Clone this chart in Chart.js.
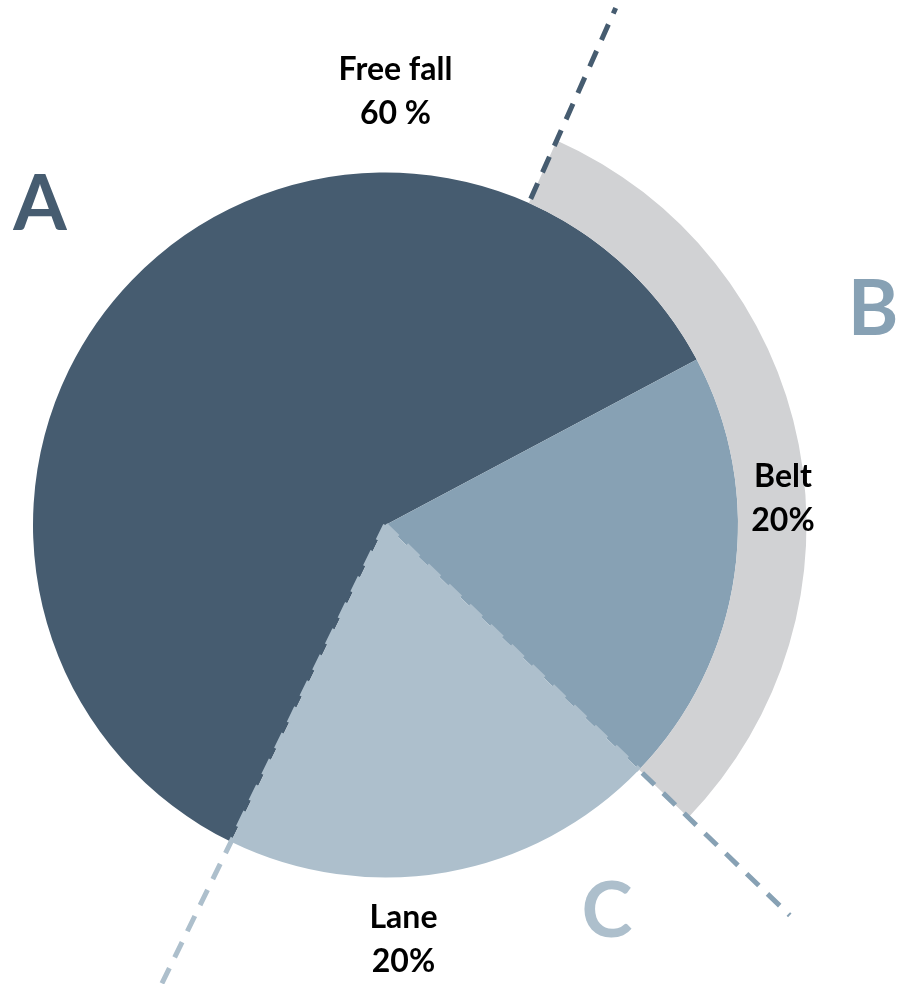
<!DOCTYPE html>
<html>
<head>
<meta charset="utf-8">
<script src="https://cdn.jsdelivr.net/npm/chart.js@4.4.1/dist/chart.umd.min.js"></script>
<style>
    html, body { margin: 0; padding: 0; background: #fff; width: 897px; height: 984px; overflow: hidden; }
    #wrap { position: absolute; left: -40px; top: 0; width: 937px; height: 984px; }
    .txt { position: absolute; width: 400px; text-align: center; white-space: nowrap;
           font-family: Lato, "Open Sans", sans-serif; font-weight: 700; }
</style>
</head>
<body>
<div id="wrap"><canvas id="pieChart"></canvas></div>
<script>
    // data
    const categories = ['Free fall', 'Belt', 'Lane'];
    const shares = [60, 20, 20];
    const shareLabels = ['60 %', '20%', '20%'];
    const groupLetters = ['A', 'B', 'C'];
    const bandArc = [24, 134]; // grey band, degrees clockwise from top

    const sliceColors = ['#465c70', '#87a1b4', '#adbfcc'];
    const bandColor = '#d1d2d4';
    const pieStart = 206; // where "Free fall" begins

    // dashed guide lines
    const guideLines = {
        id: 'guideLines',
        afterDatasetsDraw(chart) {
            const ctx = chart.ctx;
            const arcs = chart.getDatasetMeta(1).data;
            const band = chart.getDatasetMeta(0).data[0];
            const cx = arcs[0].x, cy = arcs[0].y, r = arcs[0].outerRadius;

            const line = (angle, r0, r1, color) => {
                ctx.save();
                ctx.strokeStyle = color;
                ctx.lineWidth = 5;
                ctx.setLineDash([17, 12]);
                ctx.lineDashOffset = -r0;
                ctx.beginPath();
                ctx.moveTo(cx + Math.cos(angle) * r0, cy + Math.sin(angle) * r0);
                ctx.lineTo(cx + Math.cos(angle) * r1, cy + Math.sin(angle) * r1);
                ctx.stroke();
                ctx.restore();
            };

            line(band.startAngle, r, 566, sliceColors[0]);
            line(arcs[1].endAngle, 0, r, sliceColors[2]);
            line(arcs[1].endAngle, r, 562, sliceColors[1]);
            line(arcs[2].endAngle, 0, 560, sliceColors[2]);
        }
    };

    new Chart(document.getElementById('pieChart'), {
        type: 'pie',
        data: {
            labels: categories,
            datasets: [
                {
                    data: [1],
                    backgroundColor: [bandColor],
                    rotation: bandArc[0],
                    circumference: bandArc[1] - bandArc[0],
                    borderWidth: 0,
                    weight: 68.5
                },
                {
                    data: shares,
                    backgroundColor: sliceColors,
                    rotation: pieStart,
                    borderWidth: 0,
                    weight: 352.5
                }
            ]
        },
        options: {
            responsive: true,
            maintainAspectRatio: false,
            animation: false,
            events: [],
            layout: { padding: { left: 4.5, right: 90.5, top: 104, bottom: 38 } },
            plugins: {
                legend: { display: false },
                tooltip: { enabled: false }
            }
        },
        plugins: [guideLines]
    });

    // texts
    function placeText(text, cx, baseline, size, color) {
        const el = document.createElement('div');
        el.className = 'txt';
        el.textContent = text;
        el.style.fontSize = size + 'px';
        el.style.lineHeight = size + 'px';
        el.style.color = color;
        el.style.left = (cx - 200) + 'px';
        el.style.top = (baseline - 0.887 * size) + 'px';
        document.body.appendChild(el);
    }

    const labelSpots = [[395.5, 80], [783, 487], [403.5, 928]];
    categories.forEach((name, i) => {
        const [x, y] = labelSpots[i];
        placeText(name, x, y, 32, '#000');
        placeText(shareLabels[i], x, y + 44, 32, '#000');
    });

    const letterSpots = [[40, 230], [873, 335], [607, 937]];
    groupLetters.forEach((letter, i) => {
        const [x, y] = letterSpots[i];
        placeText(letter, x, y, 77, sliceColors[i]);
    });
</script>
</body>
</html>
